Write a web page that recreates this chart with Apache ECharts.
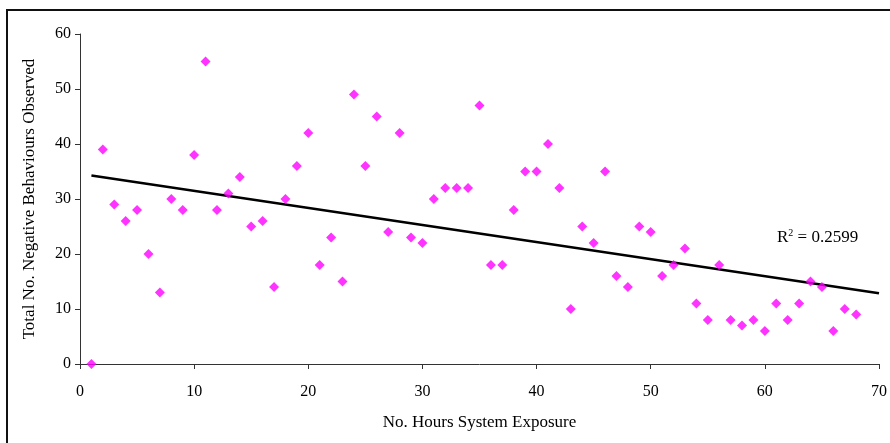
<!DOCTYPE html>
<html>
<head>
<meta charset="utf-8">
<style>
  html, body { margin: 0; padding: 0; background: #fff; }
  #chart { width: 890px; height: 443px; }
</style>
<script src="https://cdn.jsdelivr.net/npm/echarts@6/dist/echarts.min.js"></script>
</head>
<body>
<div id="chart"></div>
<script>
// hours of exposure (x) and total negative behaviours observed (y)
const hours = [
  1, 2, 3, 4, 5, 6, 7, 8, 9, 10, 11, 12, 13, 14, 15, 16, 17, 18, 19, 20,
  21, 22, 23, 24, 25, 26, 27, 28, 29, 30, 31, 32, 33, 34, 35, 36, 37, 38, 39, 40,
  41, 42, 43, 44, 45, 46, 47, 48, 49, 50, 51, 52, 53, 54, 55, 56, 57, 58, 59, 60,
  61, 62, 63, 64, 65, 66, 67, 68
]
const behaviours = [
  0, 39, 29, 26, 28, 20, 13, 30, 28, 38, 55, 28, 31, 34, 25, 26, 14, 30, 36, 42,
  18, 23, 15, 49, 36, 45, 24, 42, 23, 22, 30, 32, 32, 32, 47, 18, 18, 28, 35, 35,
  40, 32, 10, 25, 22, 35, 16, 14, 25, 24, 16, 18, 21, 11, 8, 18, 8, 7, 8, 6,
  11, 8, 11, 15, 14, 6, 10, 9
]
const xTicks = [0, 10, 20, 30, 40, 50, 60, 70]
const yTicks = [0, 10, 20, 30, 40, 50, 60]
const trendRange = [1, 70]
const rSquared = '0.2599'

// 线性趋势线（最小二乘）
const n = hours.length
const mx = hours.reduce((a, b) => a + b, 0) / n
const my = behaviours.reduce((a, b) => a + b, 0) / n
let sxy = 0
let sxx = 0
for (let i = 0; i < n; i++) {
  sxy += (hours[i] - mx) * (behaviours[i] - my)
  sxx += (hours[i] - mx) * (hours[i] - mx)
}
const slope = sxy / sxx
const intercept = my - slope * mx
const trendData = trendRange.map((x) => [x, intercept + slope * x])

const font = 'Liberation Serif, Times New Roman, serif'
const chart = echarts.init(document.getElementById('chart'))
chart.setOption({
  animation: false,
  grid: { left: 80, right: 8, top: 34, bottom: 79 },
  xAxis: {
    type: 'value',
    min: xTicks[0],
    max: xTicks[xTicks.length - 1],
    interval: 10,
    name: 'No. Hours System Exposure',
    nameLocation: 'middle',
    nameGap: 50,
    nameTextStyle: { fontFamily: font, fontSize: 17, color: '#000' },
    axisLine: { lineStyle: { color: '#333', width: 1 } },
    axisTick: { show: true, length: 5, inside: false, lineStyle: { color: '#333' } },
    axisLabel: { fontFamily: font, fontSize: 16, color: '#000', margin: 20, showMaxLabel: true },
    splitLine: { show: false }
  },
  yAxis: {
    type: 'value',
    min: yTicks[0],
    max: yTicks[yTicks.length - 1],
    interval: 10,
    name: 'Total No. Negative Behaviours Observed',
    nameLocation: 'middle',
    nameGap: 42,
    nameTextStyle: { fontFamily: font, fontSize: 17, color: '#000' },
    axisLine: { show: true, lineStyle: { color: '#333', width: 1 } },
    axisTick: { show: true, length: 5, inside: false, lineStyle: { color: '#333' } },
    axisLabel: { fontFamily: font, fontSize: 16, color: '#000', margin: 9 },
    splitLine: { show: false }
  },
  graphic: [
    {
      type: 'rect',
      silent: true,
      shape: { x: 7, y: 10, width: 900, height: 460 },
      style: { fill: 'none', stroke: '#111', lineWidth: 2 }
    },
    {
      type: 'text',
      left: 777,
      top: 228,
      style: {
        text: '{r|R}{s|2}{r| = ' + rSquared + '}',
        rich: {
          r: { fontFamily: font, fontSize: 17, lineHeight: 18, fill: '#000', verticalAlign: 'bottom' },
          s: { fontFamily: font, fontSize: 10, lineHeight: 10, fill: '#000', verticalAlign: 'top' }
        }
      }
    }
  ],
  series: [
    {
      type: 'line',
      data: trendData,
      symbol: 'none',
      lineStyle: { color: '#000', width: 2.5 },
      z: 1
    },
    {
      type: 'scatter',
      data: hours.map((x, i) => [x, behaviours[i]]),
      symbol: 'diamond',
      symbolSize: 10,
      itemStyle: { color: '#ff00ff' },
      z: 2
    }
  ]
})
</script>
</body>
</html>
